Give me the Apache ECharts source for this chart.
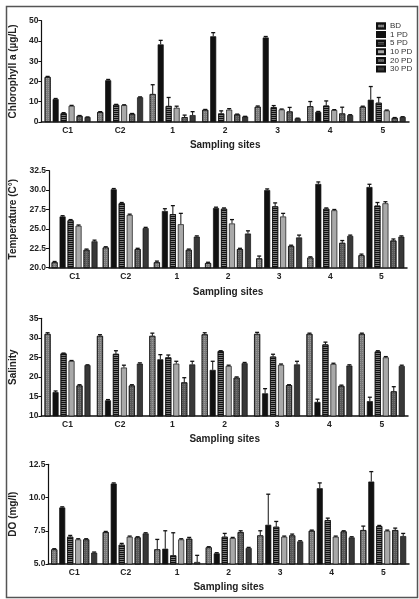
<!DOCTYPE html>
<html>
<head>
<meta charset="utf-8">
<script src="https://cdn.jsdelivr.net/npm/echarts@6/dist/echarts.min.js"></script>
<style>
html,body{margin:0;padding:0;background:#fff;}
#chart{width:419px;height:599px;}
</style>
</head>
<body>
<div id="chart"></div>
<script>
// ---- Data ----
const categories = ['C1', 'C2', '1', '2', '3', '4', '5'];
const seriesNames = ['BD', '1 PD', '5 PD', '10 PD', '20 PD', '30 PD'];

// Chlorophyll a (µg/L)
const chlBD   = [22.2, 4.9, 13.8, 6.0, 7.5, 7.8, 7.5];
const chl1PD  = [11.3, 20.6, 38.3, 42.3, 41.7, 5.0, 11.0];
const chl5PD  = [4.3, 8.5, 7.9, 4.2, 7.3, 8.1, 9.5];
const chl10PD = [8.0, 8.3, 7.0, 6.1, 6.2, 5.9, 5.7];
const chl20PD = [3.0, 4.0, 2.4, 3.7, 5.2, 4.2, 2.0];
const chl30PD = [2.4, 12.2, 3.4, 2.7, 1.8, 3.4, 2.5];
const chlErrBD   = [0.3, 0.2, 4.6, 0.2, 0.4, 2.3, 0.3];
const chlErr1PD  = [0.3, 0.4, 2.0, 1.8, 0.5, 0.2, 6.5];
const chlErr5PD  = [0.3, 0.2, 4.2, 1.3, 0.8, 2.3, 2.6];
const chlErr10PD = [0.2, 0.2, 0.8, 0.5, 0.2, 0.2, 0.2];
const chlErr20PD = [0.2, 0.2, 1.0, 0.2, 2.0, 3.1, 0.2];
const chlErr30PD = [0.1, 0.2, 1.7, 0.1, 0.1, 0.2, 0.1];

// Temperature (C°)
const tmpBD   = [20.7, 22.6, 20.7, 20.6, 21.2, 21.3, 21.6];
const tmp1PD  = [26.6, 30.1, 27.3, 27.7, 30.0, 30.8, 30.4];
const tmp5PD  = [26.1, 28.3, 26.9, 27.6, 27.9, 27.6, 28.0];
const tmp10PD = [25.4, 26.8, 25.6, 25.7, 26.6, 27.4, 28.3];
const tmp20PD = [22.3, 22.4, 22.3, 22.4, 22.8, 23.2, 23.5];
const tmp30PD = [23.4, 25.1, 24.0, 24.4, 23.9, 24.1, 24.0];
const tmpErrBD   = [0.1, 0.1, 0.15, 0.1, 0.3, 0.1, 0.15];
const tmpErr1PD  = [0.1, 0.1, 0.3, 0.1, 0.15, 0.25, 0.35];
const tmpErr5PD  = [0.1, 0.1, 1.1, 0.1, 0.45, 0.1, 0.4];
const tmpErr10PD = [0.1, 0.1, 1.4, 0.5, 0.4, 0.1, 0.2];
const tmpErr20PD = [0.1, 0.1, 0.1, 0.1, 0.1, 0.3, 0.2];
const tmpErr30PD = [0.15, 0.1, 0.1, 0.35, 0.3, 0.1, 0.1];

// Salinity
const salBD   = [31.0, 30.5, 30.5, 30.9, 31.0, 31.0, 31.0];
const sal1PD  = [16.1, 14.0, 24.5, 21.8, 15.8, 13.6, 13.8];
const sal5PD  = [26.0, 25.9, 25.0, 26.6, 25.2, 28.3, 26.5];
const sal10PD = [24.1, 22.4, 23.4, 22.8, 23.1, 23.3, 25.0];
const sal20PD = [17.8, 17.8, 18.6, 19.8, 17.9, 17.7, 16.3];
const sal30PD = [23.0, 23.4, 23.2, 23.5, 23.2, 22.9, 22.8];
const salErrBD   = [0.3, 0.3, 0.7, 0.4, 0.4, 0.2, 0.2];
const salErr1PD  = [0.3, 0.2, 1.2, 2.2, 1.2, 0.7, 1.0];
const salErr5PD  = [0.1, 0.8, 0.6, 0.1, 0.6, 0.6, 0.2];
const salErr10PD = [0.1, 0.6, 0.6, 0.2, 0.2, 0.2, 0.2];
const salErr20PD = [0.2, 0.2, 1.2, 0.2, 0.1, 0.2, 1.2];
const salErr30PD = [0.1, 0.2, 0.8, 0.2, 0.8, 0.2, 0.2];

// DO (mg/l)
const doBD   = [6.1, 7.4, 6.1, 6.25, 7.15, 7.5, 7.55];
const do1PD  = [9.25, 11.05, 6.15, 5.8, 7.95, 10.7, 11.2];
const do5PD  = [7.05, 6.45, 5.65, 7.05, 7.8, 8.3, 7.85];
const do10PD = [6.85, 7.05, 6.85, 6.95, 7.05, 7.05, 7.5];
const do20PD = [6.85, 7.0, 6.9, 7.4, 7.15, 7.45, 7.55];
const do30PD = [5.85, 7.3, 5.15, 6.2, 6.7, 7.0, 7.1];
const doErrBD   = [0.05, 0.05, 0.75, 0.05, 0.35, 0.05, 0.3];
const doErr1PD  = [0.05, 0.05, 1.35, 0.05, 2.3, 0.4, 0.75];
const doErr5PD  = [0.1, 0.1, 1.7, 0.25, 0.4, 0.15, 0.05];
const doErr10PD = [0.05, 0.05, 0.05, 0.05, 0.05, 0.05, 0.05];
const doErr20PD = [0.05, 0.05, 0.1, 0.1, 0.1, 0.05, 0.15];
const doErr30PD = [0.05, 0.05, 0.5, 0.05, 0.05, 0.05, 0.2];

// Axis settings
const yNames = ['Chlorophyll a (µg/L)', 'Temperature (C°)', 'Salinity', 'DO (mg/l)'];
const yMin = [0, 20, 10, 5];
const yMax = [50, 32.5, 35, 12.5];
const yStep = [10, 2.5, 5, 2.5];
const yDecimals = [0, 1, 0, 1];
const xTitle = 'Sampling sites';

// ---- Build ----
const panels = [
  {vals: [chlBD, chl1PD, chl5PD, chl10PD, chl20PD, chl30PD], errs: [chlErrBD, chlErr1PD, chlErr5PD, chlErr10PD, chlErr20PD, chlErr30PD]},
  {vals: [tmpBD, tmp1PD, tmp5PD, tmp10PD, tmp20PD, tmp30PD], errs: [tmpErrBD, tmpErr1PD, tmpErr5PD, tmpErr10PD, tmpErr20PD, tmpErr30PD]},
  {vals: [salBD, sal1PD, sal5PD, sal10PD, sal20PD, sal30PD], errs: [salErrBD, salErr1PD, salErr5PD, salErr10PD, salErr20PD, salErr30PD]},
  {vals: [doBD, do1PD, do5PD, do10PD, do20PD, do30PD], errs: [doErrBD, doErr1PD, doErr5PD, doErr10PD, doErr20PD, doErr30PD]}
];

const grids = [
  {left: 39, right: 10, top: 20.7, height: 101.3},
  {left: 49, right: 12, top: 170.7, height: 97},
  {left: 37, right: 11, top: 318.3, height: 97.7},
  {left: 42, right: 10, top: 464.3, height: 99.7}
];
const nameGaps = [13, 24, 17, 21];

const FONT = '"Liberation Sans", Arial, sans-serif';
const BAR_W = 6;
const GAP_RATIO = 0.33;

const seriesStyles = [
  {color: '#7a7a7a', decal: {symbol: 'rect', symbolSize: 1, dashArrayX: [1, 1], dashArrayY: [1, 1], color: 'rgba(190,190,190,0.45)'}},
  {color: '#111111'},
  {color: '#7a7a7a', decal: {symbol: 'rect', symbolSize: 1, dashArrayX: [1, 0], dashArrayY: [1, 1], color: '#111'}},
  {color: '#a9a9a9'},
  {color: '#595959', decal: {symbol: 'rect', symbolSize: 1, dashArrayX: [1, 1], dashArrayY: [1, 1], color: 'rgba(150,150,150,0.45)'}},
  {color: '#383838'}
];

const xAxes = [], yAxes = [], series = [];
panels.forEach((p, pi) => {
  xAxes.push({
    type: 'category', gridIndex: pi, data: categories,
    name: xTitle, nameLocation: 'middle', nameGap: pi === 1 ? 20 : 18,
    nameTextStyle: {fontFamily: FONT, fontWeight: 'bold', fontSize: 10, color: '#222'},
    axisLine: {lineStyle: {color: '#111', width: 1.5}},
    axisTick: {alignWithLabel: true, length: 3, lineStyle: {color: '#111'}},
    axisLabel: {fontFamily: FONT, fontWeight: 'bold', fontSize: 8.5, color: '#222', margin: 4}
  });
  yAxes.push({
    type: 'value', gridIndex: pi, min: yMin[pi], max: yMax[pi], interval: yStep[pi],
    name: yNames[pi], nameLocation: 'middle', nameGap: nameGaps[pi],
    nameTextStyle: {fontFamily: FONT, fontWeight: 'bold', fontSize: 10, color: '#222'},
    axisLine: {show: true, lineStyle: {color: '#111', width: 1.2}},
    axisTick: {show: true, length: 3, lineStyle: {color: '#111'}},
    splitLine: {show: false},
    axisLabel: {fontFamily: FONT, fontWeight: 'bold', fontSize: 8.5, color: '#222', margin: 3,
      formatter: v => v.toFixed(yDecimals[pi])}
  });
  const errData = [];
  p.vals.forEach((arr, si) => {
    series.push({
      type: 'bar', name: seriesNames[si], xAxisIndex: pi, yAxisIndex: pi,
      data: arr, barWidth: BAR_W, barGap: (GAP_RATIO * 100) + '%',
      itemStyle: Object.assign({borderColor: '#111', borderWidth: 0.7}, seriesStyles[si]),
      emphasis: {disabled: true}, animation: false
    });
    arr.forEach((v, ci) => errData.push([ci, si, v, p.errs[si][ci]]));
  });
  series.push({
    type: 'custom', xAxisIndex: pi, yAxisIndex: pi, data: errData, z: 10,
    encode: {x: 0, y: 2}, animation: false, silent: true,
    renderItem: (params, api) => {
      const cat = api.value(0), s = api.value(1), v = api.value(2), e = api.value(3);
      const p0 = api.coord([cat, v]);
      const p1 = api.coord([cat, v + e]);
      const step = BAR_W * (1 + GAP_RATIO);
      const x = p0[0] + (s - 2.5) * step;
      return {type: 'group', children: [
        {type: 'line', shape: {x1: x, y1: p0[1], x2: x, y2: p1[1]}, style: {stroke: '#111', lineWidth: 1}},
        {type: 'line', shape: {x1: x - 2, y1: p1[1], x2: x + 2, y2: p1[1]}, style: {stroke: '#111', lineWidth: 1.3}}
      ]};
    }
  });
});

const chart = echarts.init(document.getElementById('chart'), null, {renderer: 'canvas'});
chart.setOption({
  backgroundColor: '#fff',
  animation: false,
  grid: grids,
  xAxis: xAxes,
  yAxis: yAxes,
  legend: {
    data: seriesNames.map(n => ({name: n, icon: 'rect'})), orient: 'vertical', left: 371, top: 17,
    itemWidth: 8, itemHeight: 5, itemGap: 0.6,
    textStyle: {fontFamily: FONT, fontSize: 8, color: '#333', lineHeight: 8},
    selectedMode: false
  },
  graphic: [{
    type: 'rect', left: 4, top: 4, shape: {width: 411, height: 591},
    style: {fill: 'none', stroke: '#555', lineWidth: 1.5}, z: 100
  }],
  series: series
});
</script>
</body>
</html>
